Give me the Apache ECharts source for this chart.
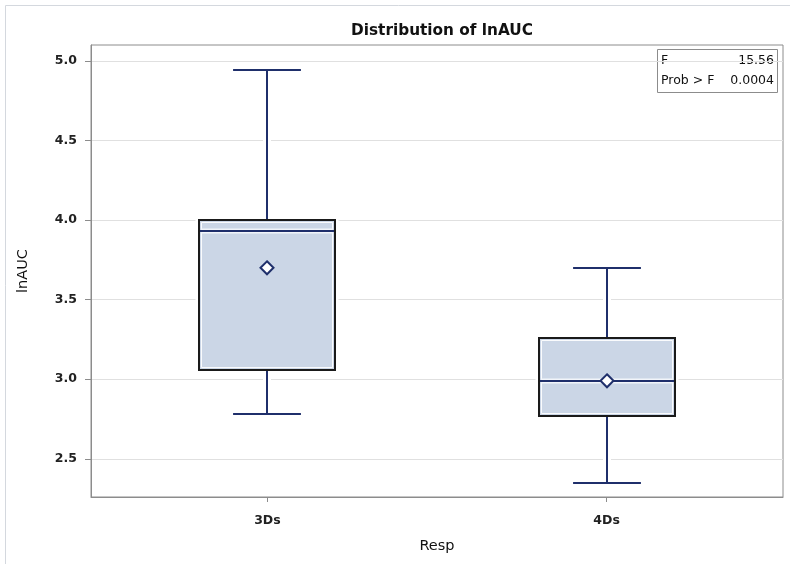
<!DOCTYPE html>
<html>
<head>
<meta charset="utf-8">
<script src="https://cdn.jsdelivr.net/npm/echarts@6/dist/echarts.min.js"></script>
<style>
  html, body { margin: 0; padding: 0; background: #fff; }
  #chart { width: 790px; height: 564px; }
</style>
</head>
<body>
<div id="chart"></div>
<script>
const categories = ['3Ds', '4Ds'];
const whiskerLow = [2.78, 2.35];
const q1 = [3.06, 2.77];
const median = [3.93, 2.99];
const q3 = [4.00, 3.26];
const whiskerHigh = [4.94, 3.70];
const mean = [3.70, 2.99];
const yTicks = [2.5, 3.0, 3.5, 4.0, 4.5, 5.0];
const statLabels = ['F', 'Prob > F'];
const statValues = ['15.56', '0.0004'];

const FONT = '"DejaVu Sans", "Liberation Sans", Arial, sans-serif';
const NAVY = '#1f2f6b';
const FILL = '#cbd6e6';

const data = categories.map((c, i) => [i, whiskerLow[i], q1[i], median[i], q3[i], whiskerHigh[i], mean[i]]);

function renderItem(params, api) {
  const x = api.value(0);
  const pLow = api.coord([x, api.value(1)]);
  const pQ1 = api.coord([x, api.value(2)]);
  const pMed = api.coord([x, api.value(3)]);
  const pQ3 = api.coord([x, api.value(4)]);
  const pHigh = api.coord([x, api.value(5)]);
  const pMean = api.coord([x, api.value(6)]);
  const boxW = api.size([0.4, 0])[0];
  const capW = api.size([0.2, 0])[0];
  const cx = Math.round(pLow[0]);
  const bx = Math.round(cx - boxW / 2);
  const bw = Math.round(boxW);
  const top = Math.round(pQ3[1]);
  const bot = Math.round(pQ1[1]);
  const yMed = Math.round(pMed[1]);
  const yHigh = Math.round(pHigh[1]);
  const yLow = Math.round(pLow[1]);
  const ch = capW / 2;
  const d = 6.5;
  const children = [];
  // white halos
  children.push({ type: 'line', shape: { x1: cx, y1: yHigh, x2: cx, y2: top }, style: { stroke: '#fff', lineWidth: 8 } });
  children.push({ type: 'line', shape: { x1: cx, y1: bot, x2: cx, y2: yLow }, style: { stroke: '#fff', lineWidth: 8 } });
  children.push({ type: 'line', shape: { x1: cx - ch, y1: yHigh, x2: cx + ch, y2: yHigh }, style: { stroke: '#fff', lineWidth: 6 } });
  children.push({ type: 'line', shape: { x1: cx - ch, y1: yLow, x2: cx + ch, y2: yLow }, style: { stroke: '#fff', lineWidth: 6 } });
  children.push({ type: 'rect', shape: { x: bx, y: top, width: bw, height: bot - top }, style: { fill: 'none', stroke: '#fff', lineWidth: 7 } });
  // whiskers
  children.push({ type: 'line', shape: { x1: cx, y1: yHigh, x2: cx, y2: top }, style: { stroke: NAVY, lineWidth: 2 } });
  children.push({ type: 'line', shape: { x1: cx, y1: bot, x2: cx, y2: yLow }, style: { stroke: NAVY, lineWidth: 2 } });
  children.push({ type: 'line', shape: { x1: cx - ch, y1: yHigh, x2: cx + ch, y2: yHigh }, style: { stroke: NAVY, lineWidth: 2 } });
  children.push({ type: 'line', shape: { x1: cx - ch, y1: yLow, x2: cx + ch, y2: yLow }, style: { stroke: NAVY, lineWidth: 2 } });
  // box
  children.push({ type: 'rect', shape: { x: bx, y: top, width: bw, height: bot - top }, style: { fill: FILL, stroke: '#1a1a1a', lineWidth: 2 } });
  children.push({ type: 'rect', shape: { x: bx + 2.5, y: top + 2.5, width: bw - 5, height: bot - top - 5 }, style: { fill: 'none', stroke: '#ffffff', lineWidth: 1, opacity: 0.9 } });
  // median
  children.push({ type: 'line', shape: { x1: bx + 2, y1: yMed, x2: bx + bw - 2, y2: yMed }, style: { stroke: '#f2f5fa', lineWidth: 5 } });
  children.push({ type: 'line', shape: { x1: bx + 1, y1: yMed, x2: bx + bw - 1, y2: yMed }, style: { stroke: NAVY, lineWidth: 2 } });
  // mean diamond
  const mx = cx, my = pMean[1];
  children.push({ type: 'polygon', shape: { points: [[mx, my - d], [mx + d, my], [mx, my + d], [mx - d, my]] }, style: { fill: '#fff', stroke: NAVY, lineWidth: 2 } });
  return { type: 'group', children };
}

const chart = echarts.init(document.getElementById('chart'), null, { renderer: 'canvas' });
chart.setOption({
  animation: false,
  backgroundColor: '#fff',
  textStyle: { fontFamily: FONT },
  title: {
    text: 'Distribution of lnAUC',
    left: 437,
    textAlign: 'center',
    top: 19,
    textStyle: { fontFamily: FONT, fontSize: 15.3, fontWeight: 'bold', color: '#111' }
  },
  grid: {
    left: 91, right: 7, top: 45, bottom: 67,
    show: true, borderColor: '#8c8c8c', borderWidth: 1, backgroundColor: 'transparent'
  },
  xAxis: {
    type: 'value',
    min: -0.52,
    max: 1.52,
    name: 'Resp',
    nameLocation: 'middle',
    nameGap: 42,
    nameTextStyle: { fontFamily: FONT, fontSize: 14.5, color: '#111' },
    axisLine: { show: true, onZero: false, lineStyle: { color: '#8c8c8c', width: 1 } },
    axisTick: { show: true, customValues: categories.map((c, i) => i), length: 5, lineStyle: { color: '#8c8c8c' } },
    axisLabel: {
      customValues: categories.map((c, i) => i),
      formatter: v => categories[Math.round(v)],
      margin: 17,
      fontFamily: FONT, fontSize: 12.5, fontWeight: 'bold', color: '#222'
    },
    splitLine: { show: false }
  },
  yAxis: {
    type: 'value',
    min: 2.26,
    max: 5.1,
    name: 'lnAUC',
    nameLocation: 'middle',
    nameGap: 60,
    nameTextStyle: { fontFamily: FONT, fontSize: 14.5, color: '#111' },
    axisLine: { show: true, onZero: false, lineStyle: { color: '#8c8c8c', width: 1 } },
    axisTick: { show: true, customValues: yTicks, length: 6, lineStyle: { color: '#8c8c8c' } },
    axisLabel: {
      customValues: yTicks,
      formatter: v => v.toFixed(1),
      margin: 14,
      fontFamily: FONT, fontSize: 12.5, fontWeight: 'bold', color: '#222'
    },
    splitLine: { show: true, lineStyle: { color: '#e0e0e0', width: 1 } }
  },
  series: [{
    type: 'custom',
    renderItem: renderItem,
    data: data,
    encode: { x: 0, y: [1, 2, 3, 4, 5, 6] },
    clip: false,
    z: 5
  }],
  graphic: [
    {
      type: 'rect', z: -10, silent: true,
      shape: { x: 5.5, y: 5.5, width: 820, height: 600 },
      style: { fill: 'none', stroke: '#d4d8de', lineWidth: 1 }
    },
    {
      type: 'group', left: 657, top: 49, z: 100,
      children: [
        { type: 'rect', shape: { x: 0.5, y: 0.5, width: 120, height: 43 }, style: { fill: '#fff', stroke: '#8c8c8c', lineWidth: 1 } }
      ].concat(statLabels.map((t, i) => ({
        type: 'text', x: 4, y: 12 + i * 20,
        style: { text: t, fontFamily: FONT, fontSize: 12.5, fill: '#111', textAlign: 'left', textVerticalAlign: 'middle' }
      }))).concat(statValues.map((t, i) => ({
        type: 'text', x: 117, y: 12 + i * 20,
        style: { text: t, fontFamily: FONT, fontSize: 12.5, fill: '#111', textAlign: 'right', textVerticalAlign: 'middle' }
      })))
    }
  ]
});
</script>
</body>
</html>
